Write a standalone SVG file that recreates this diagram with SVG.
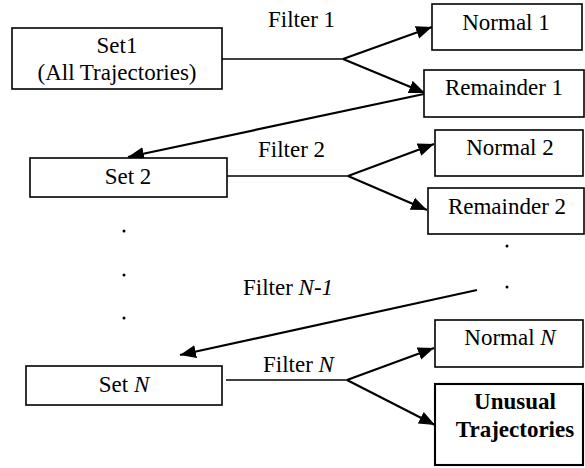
<svg xmlns="http://www.w3.org/2000/svg" width="585" height="468" viewBox="0 0 585 468">
  <style>
    .box { fill: #fff; stroke: #000; stroke-width: 1.6; }
    .bold-box { fill: #fff; stroke: #000; stroke-width: 2.1; }
    .lbl { font-family: "Liberation Serif", "Times New Roman", serif; font-size: 23px; fill: #000; }
    .mid { text-anchor: middle; }
    .b { font-weight: bold; }
    .it { font-style: italic; }
    .trunk { stroke: #000; stroke-width: 1.6; fill: none; }
    .arrow { stroke: #000; stroke-width: 2.2; fill: none; marker-end: url(#head); }
    .dot { fill: #000; }
  </style>
  <defs>
    <marker id="head" markerUnits="userSpaceOnUse" markerWidth="18" markerHeight="14" refX="16" refY="6.5" orient="auto">
      <path d="M0,0 L16,6.5 L0,13 Z" fill="#000"/>
    </marker>
  </defs>

  <!-- connectors -->
  <g id="connectors">
    <!-- filter 1 -->
    <line class="trunk" x1="222" y1="59" x2="344" y2="59"/>
    <line class="arrow" x1="343" y1="59" x2="432" y2="27"/>
    <line class="arrow" x1="343" y1="59" x2="425" y2="93"/>
    <line class="arrow" x1="424" y1="94" x2="128" y2="157"/>
    <!-- filter 2 -->
    <line class="trunk" x1="227" y1="176" x2="349" y2="176"/>
    <line class="arrow" x1="348" y1="176" x2="434" y2="144"/>
    <line class="arrow" x1="348" y1="176" x2="427" y2="210"/>
    <!-- filter N-1 -->
    <line class="arrow" x1="477" y1="290" x2="180" y2="355"/>
    <!-- filter N -->
    <line class="trunk" x1="226" y1="380" x2="348" y2="380"/>
    <line class="arrow" x1="347" y1="380" x2="434" y2="348"/>
    <line class="arrow" x1="347" y1="380" x2="435" y2="425"/>
  </g>

  <!-- edge labels -->
  <g id="labels">
    <text class="lbl" x="268" y="27">Filter 1</text>
    <text class="lbl" x="258" y="157">Filter 2</text>
    <text class="lbl" x="243" y="295">Filter <tspan class="it">N-1</tspan></text>
    <text class="lbl" x="263" y="372">Filter <tspan class="it">N</tspan></text>
  </g>

  <!-- ellipsis dots -->
  <g id="dots">
    <circle class="dot" cx="124" cy="231" r="1.5"/>
    <circle class="dot" cx="124" cy="275" r="1.5"/>
    <circle class="dot" cx="124" cy="318" r="1.5"/>
    <circle class="dot" cx="507" cy="246" r="1.5"/>
    <circle class="dot" cx="507" cy="287" r="1.5"/>
  </g>

  <g id="set1">
    <rect class="box" x="12" y="28" width="210" height="61"/>
    <text class="lbl mid" x="117" y="53">Set1</text>
    <text class="lbl mid" x="117" y="80">(All Trajectories)</text>
  </g>
  <g id="normal1">
    <rect class="box" x="432" y="4" width="150" height="46"/>
    <text class="lbl mid" x="506" y="30">Normal 1</text>
  </g>
  <g id="remainder1">
    <rect class="box" x="424" y="70" width="160" height="47"/>
    <text class="lbl mid" x="504" y="95">Remainder 1</text>
  </g>
  <g id="set2">
    <rect class="box" x="30" y="158" width="197" height="39"/>
    <text class="lbl mid" x="128" y="184">Set 2</text>
  </g>
  <g id="normal2">
    <rect class="box" x="435" y="130" width="148" height="46"/>
    <text class="lbl mid" x="510" y="155">Normal 2</text>
  </g>
  <g id="remainder2">
    <rect class="box" x="428" y="188" width="156" height="46"/>
    <text class="lbl mid" x="507" y="214">Remainder 2</text>
  </g>
  <g id="setN">
    <rect class="box" x="26" y="366" width="196" height="39"/>
    <text class="lbl mid" x="124" y="392">Set <tspan class="it">N</tspan></text>
  </g>
  <g id="normalN">
    <rect class="box" x="435" y="320" width="148" height="47"/>
    <text class="lbl mid" x="510" y="345">Normal <tspan class="it">N</tspan></text>
  </g>
  <g id="unusual">
    <rect class="bold-box" x="435" y="384" width="148" height="81"/>
    <text class="lbl mid b" x="515" y="409">Unusual</text>
    <text class="lbl mid b" x="515" y="437">Trajectories</text>
  </g>
</svg>
